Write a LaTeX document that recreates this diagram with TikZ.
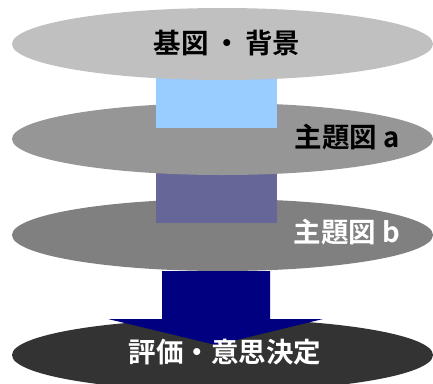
\documentclass[tikz,border=0pt]{standalone}
\usepackage{fontspec}
\newfontfamily\jp{Noto Sans CJK JP Bold}
\usetikzlibrary{shapes.geometric}
\definecolor{g1}{HTML}{C0C0C0}
\definecolor{g2}{HTML}{969696}
\definecolor{g3}{HTML}{808080}
\definecolor{g4}{HTML}{333333}
\definecolor{lblue}{HTML}{99CCFF}
\definecolor{lpurple}{HTML}{666699}
\definecolor{navyc}{HTML}{000080}
\begin{document}
\begin{tikzpicture}[x=1pt,y=-1pt,
  layer/.style={ellipse,inner sep=0pt,minimum width=421pt,minimum height=72pt},
  bar/.style={rectangle,inner sep=0pt,minimum width=121pt,minimum height=50pt},
  lbl/.style={font=\jp\fontsize{27.5}{30}\selectfont}]
\useasboundingbox (0,0) rectangle (433,383);
% bottom layer
\node[layer,fill=g4] (e4) at (222.5,355) {};
\node[layer,fill=g3] (e3) at (222.5,235) {};
\fill[navyc] (162,271) -- (270,271) -- (270,319) -- (323,319) -- (216,345) -- (108,319) -- (162,319) -- cycle;
\node[bar,fill=lpurple] (r2) at (216.5,198) {};
\node[layer,fill=g2] (e2) at (222.5,139) {};
\node[bar,fill=lblue] (r1) at (216.5,103) {};
\node[layer,fill=g1] (e1) at (222.5,44) {};
\node[lbl,text=black] (t1) at (227,43) {基図\,・\,背景};
\node[lbl,text=black] (t2) at (347,137) {主題図 a};
\node[lbl,text=white] (t3) at (347,232) {主題図 b};
\node[lbl,text=white] (t4) at (225,352) {評価・意思決定};
\end{tikzpicture}
\end{document}
